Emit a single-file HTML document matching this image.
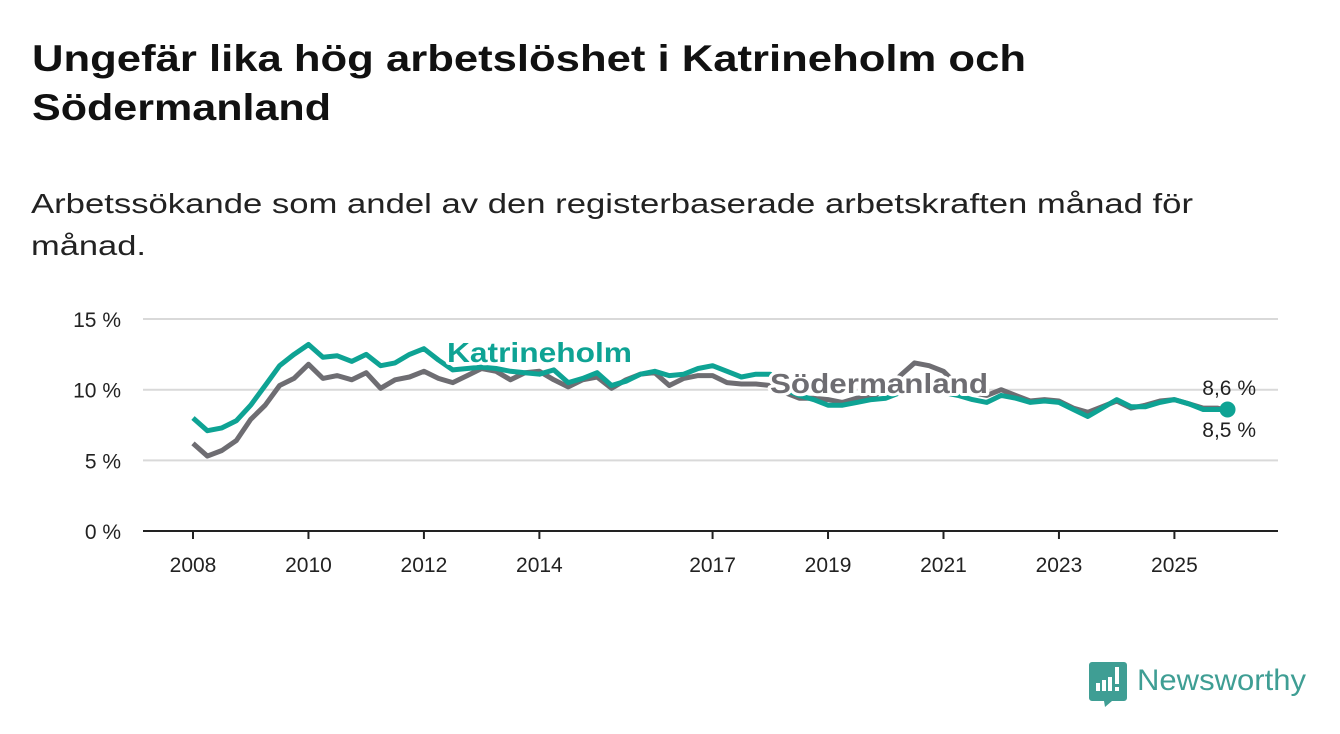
<!DOCTYPE html>
<html><head><meta charset="utf-8"><style>
html,body{margin:0;padding:0;background:#fff;}
svg{display:block;font-family:"Liberation Sans",sans-serif;}
</style></head><body>
<svg id="chart" width="1340" height="734" viewBox="0 0 1340 734">
<text x="32" y="71" font-size="37" font-weight="bold" fill="#111" textLength="994" lengthAdjust="spacingAndGlyphs">Ungefär lika hög arbetslöshet i Katrineholm och</text>
<text x="32" y="120" font-size="37" font-weight="bold" fill="#111" textLength="299" lengthAdjust="spacingAndGlyphs">Södermanland</text>
<text x="31" y="213" font-size="28" fill="#222" textLength="1162" lengthAdjust="spacingAndGlyphs">Arbetssökande som andel av den registerbaserade arbetskraften månad för</text>
<text x="31" y="255" font-size="28" fill="#222" textLength="115" lengthAdjust="spacingAndGlyphs">månad.</text>
<g id="grid"></g>
<g id="axes"></g>
<g id="series"></g>
<g id="labels"></g>
<g>
<path d="M1092 662 h32 a3 3 0 0 1 3 3 v33 a3 3 0 0 1 -3 3 h-12 l-7 6 l-1 -6 h-12 a3 3 0 0 1 -3 -3 v-33 a3 3 0 0 1 3 -3z" fill="#3f9e94"/>
<rect x="1096" y="683" width="4" height="8" fill="#fff"/><rect x="1102" y="680" width="4" height="11" fill="#fff"/><rect x="1108" y="677" width="4" height="14" fill="#fff"/><rect x="1115" y="667" width="4" height="17" fill="#fff"/><rect x="1115" y="687" width="4" height="4" fill="#fff"/>
<text x="1137" y="690" font-size="30" fill="#3f9e94" textLength="169" lengthAdjust="spacingAndGlyphs">Newsworthy</text>
</g>
</svg>
<script>
const dates=[2008,2008.25,2008.5,2008.75,2009,2009.25,2009.5,2009.75,2010,2010.25,2010.5,2010.75,2011,2011.25,2011.5,2011.75,2012,2012.25,2012.5,2012.75,2013,2013.25,2013.5,2013.75,2014,2014.25,2014.5,2014.75,2015,2015.25,2015.5,2015.75,2016,2016.25,2016.5,2016.75,2017,2017.25,2017.5,2017.75,2018,2018.25,2018.5,2018.75,2019,2019.25,2019.5,2019.75,2020,2020.25,2020.5,2020.75,2021,2021.25,2021.5,2021.75,2022,2022.25,2022.5,2022.75,2023,2023.25,2023.5,2023.75,2024,2024.25,2024.5,2024.75,2025,2025.25,2025.5,2025.75,2025.92];
const katrineholm=[8.0,7.1,7.3,7.8,8.9,10.3,11.7,12.5,13.2,12.3,12.4,12.0,12.5,11.7,11.9,12.5,12.9,12.1,11.4,11.5,11.6,11.5,11.3,11.2,11.1,11.4,10.5,10.8,11.2,10.3,10.6,11.1,11.3,11.0,11.1,11.5,11.7,11.3,10.9,11.1,11.1,10.0,9.6,9.3,8.9,8.9,9.1,9.3,9.4,9.8,10.3,10.1,9.8,9.6,9.3,9.1,9.6,9.4,9.1,9.2,9.1,8.6,8.1,8.7,9.3,8.8,8.8,9.1,9.3,9.0,8.6,8.6,8.6];
const sodermanland=[6.2,5.3,5.7,6.4,7.9,8.9,10.3,10.8,11.8,10.8,11.0,10.7,11.2,10.1,10.7,10.9,11.3,10.8,10.5,11.0,11.5,11.3,10.7,11.2,11.3,10.7,10.2,10.7,10.9,10.1,10.7,11.1,11.2,10.3,10.8,11.0,11.0,10.5,10.4,10.4,10.3,9.8,9.4,9.4,9.3,9.1,9.4,9.5,10.0,11.0,11.9,11.7,11.3,10.3,9.8,9.6,10.0,9.6,9.2,9.3,9.2,8.7,8.4,8.8,9.2,8.7,8.9,9.2,9.3,9.0,8.7,8.7,8.5];
const yTicks=[0,5,10,15];
const yTickLabels=["0 %","5 %","10 %","15 %"];
const xTicks=[2008,2010,2012,2014,2017,2019,2021,2023,2025];
const xTickLabels=["2008","2010","2012","2014","2017","2019","2021","2023","2025"];
const NS="http://www.w3.org/2000/svg";
const X=d=>193+(d-2008)*57.73;
const Y=v=>531-v*14.13;
function mk(tag,attrs,parent,txt){const e=document.createElementNS(NS,tag);for(const k in attrs)e.setAttribute(k,attrs[k]);if(txt!==undefined)e.textContent=txt;parent.appendChild(e);return e;}
const grid=document.getElementById('grid'),axes=document.getElementById('axes'),series=document.getElementById('series'),labels=document.getElementById('labels');
yTicks.forEach((t,i)=>{
 if(t>0){const g=mk('line',{x1:143,x2:1278,y1:Y(t),y2:Y(t),stroke:'#d9d9d9','stroke-width':2},grid);
 
 }
 const l=mk('text',{x:121,y:Y(t)+8,'font-size':21,'text-anchor':'end',fill:'#222'},axes,yTickLabels[i]);
 
 
});
const ax=mk('line',{x1:143,x2:1278,y1:531,y2:531,stroke:'#222','stroke-width':2},axes);


xTicks.forEach((t,i)=>{
 const tk=mk('line',{x1:X(t),x2:X(t),y1:531,y2:539,stroke:'#222','stroke-width':2},axes);
 
 
 const l=mk('text',{x:X(t),y:572,'font-size':21,'text-anchor':'middle',fill:'#222'},axes,xTickLabels[i]);
 
 
});
function pts(vals){return vals.map((v,i)=>X(dates[i]).toFixed(1)+','+Y(v).toFixed(1)).join(' ');}
const sl=mk('polyline',{points:pts(sodermanland),fill:'none',stroke:'#6e6d72','stroke-width':5,'stroke-linejoin':'round'},series);


const kl=mk('polyline',{points:pts(katrineholm),fill:'none',stroke:'#0ea394','stroke-width':5,'stroke-linejoin':'round'},series);


const n=dates.length-1;
const dot=mk('circle',{cx:X(dates[n]),cy:Y(katrineholm[n]),r:8,fill:'#0ea394'},series);


const lk=mk('text',{x:447,y:362,'font-size':28,'font-weight':'bold',fill:'#0ea394',stroke:'#fff','stroke-width':6,'paint-order':'stroke','stroke-linejoin':'round',textLength:185,lengthAdjust:'spacingAndGlyphs'},labels,'Katrineholm');


const ls=mk('text',{x:770,y:393,'font-size':28,'font-weight':'bold',fill:'#6e6d72',stroke:'#fff','stroke-width':6,'paint-order':'stroke','stroke-linejoin':'round',textLength:218,lengthAdjust:'spacingAndGlyphs'},labels,'Södermanland');


const v1=mk('text',{x:1256,y:395,'font-size':21,'text-anchor':'end',fill:'#222'},labels,katrineholm[n].toFixed(1).replace('.',',')+' %');


const v2=mk('text',{x:1256,y:437,'font-size':21,'text-anchor':'end',fill:'#222'},labels,sodermanland[n].toFixed(1).replace('.',',')+' %');


</script>
</body></html>
